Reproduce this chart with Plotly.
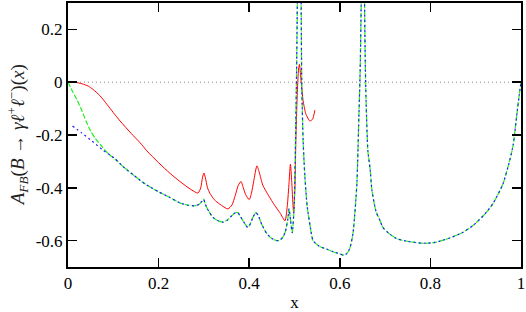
import plotly.graph_objects as go

# ---- data ----
red_x = [0.000, 0.015, 0.031, 0.045, 0.055, 0.070, 0.086, 0.100, 0.115, 0.140, 0.159, 0.174,
         0.200, 0.225, 0.247, 0.270, 0.287, 0.293, 0.297, 0.300, 0.303, 0.308, 0.313, 0.323,
         0.335, 0.353, 0.362, 0.369, 0.376, 0.382, 0.387, 0.392, 0.400, 0.405, 0.410, 0.417,
         0.422, 0.430, 0.443, 0.456, 0.468, 0.479, 0.484, 0.488, 0.491, 0.494, 0.498, 0.501,
         0.503, 0.506, 0.509, 0.511, 0.514, 0.519, 0.525, 0.534, 0.540, 0.545]
red_y = [0.000, 0.000, -0.006, -0.015, -0.027, -0.050, -0.084, -0.115, -0.147, -0.195, -0.229, -0.260,
         -0.305, -0.345, -0.376, -0.405, -0.420, -0.400, -0.360, -0.344, -0.360, -0.400, -0.420, -0.445,
         -0.462, -0.480, -0.465, -0.430, -0.390, -0.376, -0.400, -0.425, -0.445, -0.420, -0.375, -0.317,
         -0.340, -0.390, -0.430, -0.466, -0.495, -0.525, -0.470, -0.380, -0.310, -0.380, -0.495, -0.400,
         -0.220, -0.050, 0.050, 0.068, 0.015, -0.070, -0.120, -0.147, -0.140, -0.106]

green_x = [0.000, 0.010, 0.020, 0.030, 0.040, 0.050, 0.060, 0.077, 0.090, 0.108, 0.125, 0.144,
           0.170, 0.200, 0.225, 0.247, 0.265, 0.280, 0.290, 0.295, 0.299, 0.303, 0.306, 0.313,
           0.320, 0.330, 0.342, 0.352, 0.362, 0.370, 0.375, 0.381, 0.390, 0.397, 0.403, 0.408,
           0.415, 0.420, 0.428, 0.439, 0.450, 0.461, 0.468, 0.475, 0.480, 0.485, 0.488, 0.491,
           0.495, 0.499, 0.502, 0.505, 0.508, 0.511, 0.514, 0.516, 0.519, 0.523, 0.528, 0.535,
           0.541, 0.555, 0.571, 0.585, 0.600, 0.607, 0.615, 0.622, 0.629, 0.634, 0.638, 0.642,
           0.645, 0.648, 0.651, 0.654, 0.656, 0.658, 0.662, 0.667, 0.671, 0.680, 0.689, 0.695,
           0.710, 0.726, 0.750, 0.784, 0.810, 0.843, 0.870, 0.894, 0.920, 0.938, 0.960, 0.976,
           0.983, 0.991, 0.996, 1.000]
green_y = [0.000, -0.035, -0.068, -0.105, -0.148, -0.185, -0.212, -0.248, -0.272, -0.298, -0.325, -0.351,
           -0.385, -0.415, -0.437, -0.457, -0.466, -0.468, -0.462, -0.452, -0.443, -0.460, -0.474, -0.495,
           -0.512, -0.524, -0.530, -0.522, -0.505, -0.494, -0.494, -0.510, -0.535, -0.550, -0.535, -0.512,
           -0.494, -0.505, -0.540, -0.574, -0.592, -0.600, -0.598, -0.585, -0.565, -0.520, -0.480, -0.520,
           -0.570, -0.480, -0.250, 0.100, 0.600, 1.000, 0.500, 0.000, -0.220, -0.360, -0.470, -0.550,
           -0.600, -0.622, -0.632, -0.642, -0.650, -0.655, -0.650, -0.630, -0.574, -0.480, -0.374, -0.136,
           0.050, 0.400, 1.000, 0.400, 0.100, -0.070, -0.260, -0.330, -0.410, -0.490, -0.525, -0.550,
           -0.575, -0.593, -0.603, -0.610, -0.607, -0.590, -0.570, -0.543, -0.500, -0.460, -0.386, -0.290,
           -0.235, -0.120, -0.050, 0.000]

blue_start_x = [0.010, 0.030, 0.053, 0.077, 0.104]
blue_start_y = [-0.166, -0.192, -0.223, -0.257, -0.290]
blue_x = blue_start_x + green_x[10:]
blue_y = blue_start_y + green_y[10:]

x_ticks = [0, 0.2, 0.4, 0.6, 0.8, 1]
x_ticktext = ["0", "0.2", "0.4", "0.6", "0.8", "1"]
y_ticks = [-0.6, -0.4, -0.2, 0, 0.2]
y_ticktext = ["-0.6", "-0.4", "-0.2", "0", "0.2"]

FONT = "Liberation Serif"

fig = go.Figure()
fig.add_trace(go.Scatter(x=red_x, y=red_y, mode="lines", hoverinfo="skip",
                         line=dict(color="#ff0000", width=1, shape="spline", smoothing=0.6)))
fig.add_trace(go.Scatter(x=green_x, y=green_y, mode="lines", hoverinfo="skip",
                         line=dict(color="#22ee22", width=1.2, dash="5px,2px", shape="spline", smoothing=0.6)))
fig.add_trace(go.Scatter(x=blue_x, y=blue_y, mode="lines", hoverinfo="skip",
                         line=dict(color="#1f1fff", width=1.2, dash="2px,3px", shape="spline", smoothing=0.6)))

fig.add_shape(type="line", x0=0, x1=1, y0=0, y1=0, xref="x", yref="y",
              line=dict(color="#888888", width=1, dash="1px,3px"), layer="below")

axis_common = dict(showline=True, linecolor="black", linewidth=2, mirror="ticks",
                   ticks="inside", ticklen=9, tickwidth=1.5, tickcolor="black",
                   showgrid=False, zeroline=False,
                   tickfont=dict(family=FONT, size=17, color="black"))

fig.update_xaxes(range=[0, 1], tickvals=x_ticks, ticktext=x_ticktext,
                 title=dict(text="x", font=dict(family=FONT, size=17, color="black"), standoff=4),
                 **axis_common)
fig.update_yaxes(range=[-0.7, 0.3], tickvals=y_ticks, ticktext=y_ticktext, **axis_common)

fig.add_annotation(
    text="<i>A</i><sub><i>FB</i></sub>(<i>B</i> → <i>γℓ</i><sup>+</sup><i>ℓ</i><sup>−</sup>)(<i>x</i>)",
    xref="paper", yref="paper", x=-0.112, y=0.5, textangle=-90, showarrow=False,
    xanchor="center", yanchor="middle", font=dict(family=FONT, size=19, color="#222222"))

fig.update_layout(width=526, height=312, margin=dict(l=68, r=5, t=1, b=45),
                  paper_bgcolor="white", plot_bgcolor="white", showlegend=False,
                  hovermode=False)

fig.write_html("out.html", config={"displayModeBar": False, "staticPlot": True},
               post_script="document.body.style.margin='0';document.body.style.overflow='hidden';")
